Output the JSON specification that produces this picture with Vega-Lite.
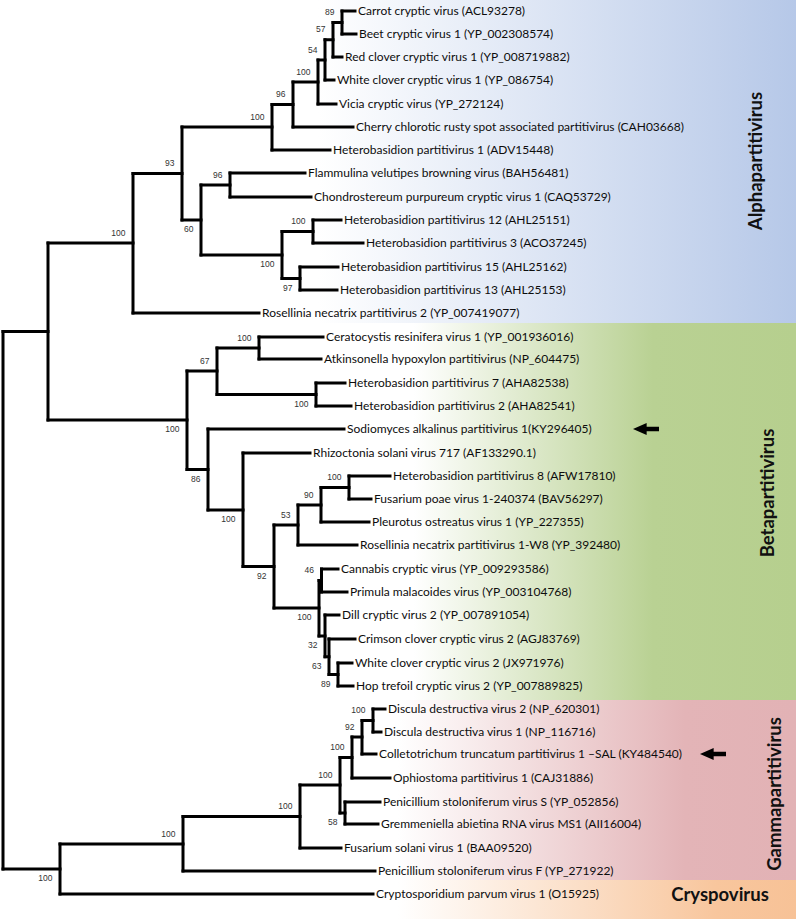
{
  "$schema": "https://vega.github.io/schema/vega-lite/v6.json",
  "width": 796,
  "height": 919,
  "autosize": {"type": "fit", "contains": "padding"},
  "padding": 0,
  "background": "white",
  "config": {"view": {"stroke": null}},
  "datasets": {
    "bands": [
      {"clade": "Alphapartitivirus", "y1": 0, "y2": 323},
      {"clade": "Betapartitivirus", "y1": 323, "y2": 700},
      {"clade": "Gammapartitivirus", "y1": 700, "y2": 880},
      {"clade": "Cryspovirus", "y1": 880, "y2": 919}
    ],
    "tree": [
      {"kind": "leaf", "name": "Carrot cryptic virus (ACL93278)", "x": 355, "px": 342, "y": 11},
      {"kind": "leaf", "name": "Beet cryptic virus 1 (YP_002308574)", "x": 356, "px": 342, "y": 34},
      {"kind": "leaf", "name": "Red clover cryptic virus 1 (YP_008719882)", "x": 342, "px": 333, "y": 57},
      {"kind": "leaf", "name": "White clover cryptic virus 1 (YP_086754)", "x": 334, "px": 325, "y": 80},
      {"kind": "leaf", "name": "Vicia cryptic virus (YP_272124)", "x": 336, "px": 318, "y": 104},
      {"kind": "leaf", "name": "Cherry chlorotic rusty spot associated partitivirus (CAH03668)", "x": 353, "px": 293, "y": 127},
      {"kind": "leaf", "name": "Heterobasidion partitivirus 1 (ADV15448)", "x": 330, "px": 272, "y": 150},
      {"kind": "leaf", "name": "Flammulina velutipes browning virus (BAH56481)", "x": 305, "px": 230, "y": 173},
      {"kind": "leaf", "name": "Chondrostereum purpureum cryptic virus 1 (CAQ53729)", "x": 311, "px": 230, "y": 197},
      {"kind": "leaf", "name": "Heterobasidion partitivirus 12 (AHL25151)", "x": 341, "px": 313, "y": 220},
      {"kind": "leaf", "name": "Heterobasidion partitivirus 3 (ACO37245)", "x": 363, "px": 313, "y": 243},
      {"kind": "leaf", "name": "Heterobasidion partitivirus 15 (AHL25162)", "x": 338, "px": 300, "y": 267},
      {"kind": "leaf", "name": "Heterobasidion partitivirus 13 (AHL25153)", "x": 337, "px": 300, "y": 290},
      {"kind": "leaf", "name": "Rosellinia necatrix partitivirus 2 (YP_007419077)", "x": 259, "px": 133, "y": 313},
      {"kind": "leaf", "name": "Ceratocystis resinifera virus 1 (YP_001936016)", "x": 323, "px": 259, "y": 337},
      {"kind": "leaf", "name": "Atkinsonella hypoxylon partitivirus (NP_604475)", "x": 321, "px": 259, "y": 359},
      {"kind": "leaf", "name": "Heterobasidion partitivirus 7 (AHA82538)", "x": 345, "px": 316, "y": 383},
      {"kind": "leaf", "name": "Heterobasidion partitivirus 2 (AHA82541)", "x": 351, "px": 316, "y": 406},
      {"kind": "leaf", "name": "Sodiomyces alkalinus partitivirus 1(KY296405)", "x": 344, "px": 208, "y": 429},
      {"kind": "leaf", "name": "Rhizoctonia solani virus 717 (AF133290.1)", "x": 310, "px": 243, "y": 453},
      {"kind": "leaf", "name": "Heterobasidion partitivirus 8 (AFW17810)", "x": 390, "px": 349, "y": 476},
      {"kind": "leaf", "name": "Fusarium poae virus 1-240374 (BAV56297)", "x": 371, "px": 349, "y": 499},
      {"kind": "leaf", "name": "Pleurotus ostreatus virus 1 (YP_227355)", "x": 369, "px": 321, "y": 522},
      {"kind": "leaf", "name": "Rosellinia necatrix partitivirus 1-W8 (YP_392480)", "x": 357, "px": 298, "y": 545},
      {"kind": "leaf", "name": "Cannabis cryptic virus (YP_009293586)", "x": 338, "px": 321.5, "y": 569},
      {"kind": "leaf", "name": "Primula malacoides virus (YP_003104768)", "x": 347, "px": 321.5, "y": 592},
      {"kind": "leaf", "name": "Dill cryptic virus 2 (YP_007891054)", "x": 339, "px": 325, "y": 615},
      {"kind": "leaf", "name": "Crimson clover cryptic virus 2 (AGJ83769)", "x": 355, "px": 329, "y": 639},
      {"kind": "leaf", "name": "White clover cryptic virus 2 (JX971976)", "x": 352, "px": 338, "y": 663},
      {"kind": "leaf", "name": "Hop trefoil cryptic virus 2 (YP_007889825)", "x": 353, "px": 338, "y": 686},
      {"kind": "leaf", "name": "Discula destructiva virus 2 (NP_620301)", "x": 385, "px": 373, "y": 709},
      {"kind": "leaf", "name": "Discula destructiva virus  1 (NP_116716)", "x": 381, "px": 373, "y": 732},
      {"kind": "leaf", "name": "Colletotrichum truncatum partitivirus 1 –SAL (KY484540)", "x": 376, "px": 362, "y": 754},
      {"kind": "leaf", "name": "Ophiostoma partitivirus 1 (CAJ31886)", "x": 390, "px": 352, "y": 778},
      {"kind": "leaf", "name": "Penicillium stoloniferum virus S (YP_052856)", "x": 380, "px": 345, "y": 802},
      {"kind": "leaf", "name": "Gremmeniella abietina RNA virus MS1 (AII16004)", "x": 378, "px": 345, "y": 824},
      {"kind": "leaf", "name": "Fusarium solani virus 1 (BAA09520)", "x": 341, "px": 300, "y": 848},
      {"kind": "leaf", "name": "Penicillium stoloniferum virus F (YP_271922)", "x": 375, "px": 183, "y": 871},
      {"kind": "leaf", "name": "Cryptosporidium parvum virus 1 (O15925)", "x": 373, "px": 60, "y": 894},

      {"kind": "node", "x": 342, "px": 333, "y": 22.5, "y1": 11, "y2": 34, "boot": "89", "pos": "above"},
      {"kind": "node", "x": 333, "px": 325, "y": 39.75, "y1": 22.5, "y2": 57, "boot": "57", "pos": "above"},
      {"kind": "node", "x": 325, "px": 318, "y": 60, "y1": 39.75, "y2": 80, "boot": "54", "pos": "above"},
      {"kind": "node", "x": 318, "px": 293, "y": 82, "y1": 60, "y2": 104, "boot": "100", "pos": "above"},
      {"kind": "node", "x": 293, "px": 272, "y": 104.5, "y1": 82, "y2": 127, "boot": "96", "pos": "above"},
      {"kind": "node", "x": 272, "px": 182, "y": 127, "y1": 104.5, "y2": 150, "boot": "100", "pos": "above"},
      {"kind": "node", "x": 230, "px": 201, "y": 185, "y1": 173, "y2": 197, "boot": "96", "pos": "above"},
      {"kind": "node", "x": 313, "px": 282, "y": 231.5, "y1": 220, "y2": 243, "boot": "100", "pos": "above"},
      {"kind": "node", "x": 300, "px": 282, "y": 278.5, "y1": 267, "y2": 290, "boot": "97", "pos": "below"},
      {"kind": "node", "x": 282, "px": 201, "y": 255, "y1": 231.5, "y2": 278.5, "boot": "100", "pos": "below"},
      {"kind": "node", "x": 201, "px": 182, "y": 220, "y1": 185, "y2": 255, "boot": "60", "pos": "below"},
      {"kind": "node", "x": 182, "px": 133, "y": 173.5, "y1": 127, "y2": 220, "boot": "93", "pos": "above"},
      {"kind": "node", "x": 133, "px": 48, "y": 243, "y1": 173.5, "y2": 313, "boot": "100", "pos": "above"},

      {"kind": "node", "x": 259, "px": 217, "y": 348, "y1": 337, "y2": 359, "boot": "100", "pos": "above"},
      {"kind": "node", "x": 316, "px": 217, "y": 394.5, "y1": 383, "y2": 406, "boot": "100", "pos": "below"},
      {"kind": "node", "x": 217, "px": 187, "y": 371, "y1": 348, "y2": 394.5, "boot": "67", "pos": "above"},
      {"kind": "node", "x": 349, "px": 321, "y": 487.5, "y1": 476, "y2": 499, "boot": "100", "pos": "above"},
      {"kind": "node", "x": 321, "px": 298, "y": 505, "y1": 487.5, "y2": 522, "boot": "90", "pos": "above"},
      {"kind": "node", "x": 298, "px": 274, "y": 525, "y1": 505, "y2": 545, "boot": "53", "pos": "above"},
      {"kind": "node", "x": 321.5, "px": 319, "y": 580.5, "y1": 569, "y2": 592, "boot": "46", "pos": "above"},
      {"kind": "node", "x": 338, "px": 329, "y": 674.5, "y1": 663, "y2": 686, "boot": "89", "pos": "below"},
      {"kind": "node", "x": 329, "px": 325, "y": 656.75, "y1": 639, "y2": 674.5, "boot": "63", "pos": "below"},
      {"kind": "node", "x": 325, "px": 319, "y": 636, "y1": 615, "y2": 656.75, "boot": "32", "pos": "below"},
      {"kind": "node", "x": 319, "px": 274, "y": 608, "y1": 580.5, "y2": 636, "boot": "100", "pos": "below"},
      {"kind": "node", "x": 274, "px": 243, "y": 566.5, "y1": 525, "y2": 608, "boot": "92", "pos": "below"},
      {"kind": "node", "x": 243, "px": 208, "y": 510, "y1": 453, "y2": 566.5, "boot": "100", "pos": "below"},
      {"kind": "node", "x": 208, "px": 187, "y": 469.5, "y1": 429, "y2": 510, "boot": "86", "pos": "below"},
      {"kind": "node", "x": 187, "px": 48, "y": 420, "y1": 371, "y2": 469.5, "boot": "100", "pos": "below"},

      {"kind": "node", "x": 373, "px": 362, "y": 720.5, "y1": 709, "y2": 732, "boot": "100", "pos": "above"},
      {"kind": "node", "x": 362, "px": 352, "y": 737, "y1": 720.5, "y2": 754, "boot": "92", "pos": "above"},
      {"kind": "node", "x": 352, "px": 340, "y": 757.5, "y1": 737, "y2": 778, "boot": "100", "pos": "above"},
      {"kind": "node", "x": 345, "px": 340, "y": 813, "y1": 802, "y2": 824, "boot": "58", "pos": "below"},
      {"kind": "node", "x": 340, "px": 300, "y": 785, "y1": 757.5, "y2": 813, "boot": "100", "pos": "above"},
      {"kind": "node", "x": 300, "px": 183, "y": 816.5, "y1": 785, "y2": 848, "boot": "100", "pos": "above"},
      {"kind": "node", "x": 183, "px": 60, "y": 844, "y1": 816.5, "y2": 871, "boot": "100", "pos": "above"},
      {"kind": "node", "x": 60, "px": 3, "y": 869, "y1": 844, "y2": 894, "boot": "100", "pos": "below"},
      {"kind": "node", "x": 48, "px": 3, "y": 331.5, "y1": 243, "y2": 420},
      {"kind": "node", "x": 3, "y": 600, "y1": 331.5, "y2": 869}
    ],
    "arrows": [
      {"target": "Sodiomyces alkalinus partitivirus 1(KY296405)", "x": 646, "y": 429},
      {"target": "Colletotrichum truncatum partitivirus 1 –SAL (KY484540)", "x": 713, "y": 754}
    ],
    "clades": [
      {"clade": "Alphapartitivirus", "x": 756, "y": 161, "dir": "vertical"},
      {"clade": "Betapartitivirus", "x": 768, "y": 493, "dir": "vertical"},
      {"clade": "Gammapartitivirus", "x": 775, "y": 794, "dir": "vertical"},
      {"clade": "Cryspovirus", "x": 720, "y": 895, "dir": "horizontal"}
    ]
  },
  "layer": [
    {
      "data": {"name": "bands"},
      "transform": [{"filter": "datum.clade === 'Alphapartitivirus'"}],
      "mark": {"type": "rect", "fill": {"gradient": "linear", "x1": 0, "x2": 1, "y1": 0, "y2": 0, "stops": [{"offset": 0, "color": "#ffffff"}, {"offset": 0.4, "color": "#ffffff"}, {"offset": 1, "color": "#b6c8e8"}]}},
      "encoding": {
        "x": {"datum": 0, "type": "quantitative", "scale": {"domain": [0, 796], "nice": false, "zero": false}, "axis": null},
        "x2": {"datum": 796},
        "y": {"field": "y1", "type": "quantitative", "scale": {"domain": [0, 919], "nice": false, "zero": false, "reverse": true}, "axis": null},
        "y2": {"field": "y2"}
      }
    },
    {
      "data": {"name": "bands"},
      "transform": [{"filter": "datum.clade === 'Betapartitivirus'"}],
      "mark": {"type": "rect", "fill": {"gradient": "linear", "x1": 0, "x2": 1, "y1": 0, "y2": 0, "stops": [{"offset": 0, "color": "#ffffff"}, {"offset": 0.52, "color": "#ffffff"}, {"offset": 0.82, "color": "#b9d193"}, {"offset": 1, "color": "#b6cf8e"}]}},
      "encoding": {
        "x": {"datum": 0, "type": "quantitative", "scale": {"domain": [0, 796], "nice": false, "zero": false}, "axis": null},
        "x2": {"datum": 796},
        "y": {"field": "y1", "type": "quantitative", "scale": {"domain": [0, 919], "nice": false, "zero": false, "reverse": true}, "axis": null},
        "y2": {"field": "y2"}
      }
    },
    {
      "data": {"name": "bands"},
      "transform": [{"filter": "datum.clade === 'Gammapartitivirus'"}],
      "mark": {"type": "rect", "fill": {"gradient": "linear", "x1": 0, "x2": 1, "y1": 0, "y2": 0, "stops": [{"offset": 0, "color": "#ffffff"}, {"offset": 0.5, "color": "#ffffff"}, {"offset": 0.86, "color": "#e3b4b7"}, {"offset": 1, "color": "#e2b2b5"}]}},
      "encoding": {
        "x": {"datum": 0, "type": "quantitative", "scale": {"domain": [0, 796], "nice": false, "zero": false}, "axis": null},
        "x2": {"datum": 796},
        "y": {"field": "y1", "type": "quantitative", "scale": {"domain": [0, 919], "nice": false, "zero": false, "reverse": true}, "axis": null},
        "y2": {"field": "y2"}
      }
    },
    {
      "data": {"name": "bands"},
      "transform": [{"filter": "datum.clade === 'Cryspovirus'"}],
      "mark": {"type": "rect", "fill": {"gradient": "linear", "x1": 0, "x2": 1, "y1": 0, "y2": 0, "stops": [{"offset": 0, "color": "#ffffff"}, {"offset": 0.5, "color": "#ffffff"}, {"offset": 0.9, "color": "#f8c69d"}, {"offset": 1, "color": "#f7c297"}]}},
      "encoding": {
        "x": {"datum": 0, "type": "quantitative", "scale": {"domain": [0, 796], "nice": false, "zero": false}, "axis": null},
        "x2": {"datum": 796},
        "y": {"field": "y1", "type": "quantitative", "scale": {"domain": [0, 919], "nice": false, "zero": false, "reverse": true}, "axis": null},
        "y2": {"field": "y2"}
      }
    },
    {
      "data": {"name": "tree"},
      "transform": [{"filter": "isValid(datum.px)"}],
      "mark": {"type": "rule", "color": "#000000", "strokeWidth": 3, "strokeCap": "square"},
      "encoding": {
        "x": {"field": "px", "type": "quantitative", "scale": {"domain": [0, 796], "nice": false, "zero": false}, "axis": null},
        "x2": {"field": "x"},
        "y": {"field": "y", "type": "quantitative", "scale": {"domain": [0, 919], "nice": false, "zero": false, "reverse": true}, "axis": null}
      }
    },
    {
      "data": {"name": "tree"},
      "transform": [{"filter": "isValid(datum.y1)"}],
      "mark": {"type": "rule", "color": "#000000", "strokeWidth": 3, "strokeCap": "square"},
      "encoding": {
        "x": {"field": "x", "type": "quantitative", "scale": {"domain": [0, 796], "nice": false, "zero": false}, "axis": null},
        "y": {"field": "y1", "type": "quantitative", "scale": {"domain": [0, 919], "nice": false, "zero": false, "reverse": true}, "axis": null},
        "y2": {"field": "y2"}
      }
    },
    {
      "data": {"name": "tree"},
      "transform": [{"filter": "datum.kind === 'leaf'"}],
      "mark": {"type": "text", "align": "left", "baseline": "middle", "dx": 3, "font": "Lato", "fontSize": 12, "color": "#0d0d0d"},
      "encoding": {
        "x": {"field": "x", "type": "quantitative", "scale": {"domain": [0, 796], "nice": false, "zero": false}, "axis": null},
        "y": {"field": "y", "type": "quantitative", "scale": {"domain": [0, 919], "nice": false, "zero": false, "reverse": true}, "axis": null},
        "text": {"field": "name"}
      }
    },
    {
      "data": {"name": "tree"},
      "transform": [{"filter": "datum.pos === 'above'"}],
      "mark": {"type": "text", "align": "right", "baseline": "middle", "dx": -7.5, "dy": -10.5, "font": "Liberation Sans", "fontSize": 8.5, "color": "#333333"},
      "encoding": {
        "x": {"field": "x", "type": "quantitative", "scale": {"domain": [0, 796], "nice": false, "zero": false}, "axis": null},
        "y": {"field": "y", "type": "quantitative", "scale": {"domain": [0, 919], "nice": false, "zero": false, "reverse": true}, "axis": null},
        "text": {"field": "boot"}
      }
    },
    {
      "data": {"name": "tree"},
      "transform": [{"filter": "datum.pos === 'below'"}],
      "mark": {"type": "text", "align": "right", "baseline": "middle", "dx": -7.5, "dy": 9, "font": "Liberation Sans", "fontSize": 8.5, "color": "#333333"},
      "encoding": {
        "x": {"field": "x", "type": "quantitative", "scale": {"domain": [0, 796], "nice": false, "zero": false}, "axis": null},
        "y": {"field": "y", "type": "quantitative", "scale": {"domain": [0, 919], "nice": false, "zero": false, "reverse": true}, "axis": null},
        "text": {"field": "boot"}
      }
    },
    {
      "data": {"name": "arrows"},
      "mark": {"type": "point", "shape": "M-1,0L0.05,-0.46L0.05,-0.18L1,-0.18L1,0.18L0.05,0.18L0.05,0.46Z", "filled": true, "color": "#000000", "size": 676, "opacity": 1, "strokeWidth": 0},
      "encoding": {
        "x": {"field": "x", "type": "quantitative", "scale": {"domain": [0, 796], "nice": false, "zero": false}, "axis": null},
        "y": {"field": "y", "type": "quantitative", "scale": {"domain": [0, 919], "nice": false, "zero": false, "reverse": true}, "axis": null}
      }
    },
    {
      "data": {"name": "clades"},
      "transform": [{"filter": "datum.dir === 'vertical'"}],
      "mark": {"type": "text", "angle": 270, "align": "center", "baseline": "middle", "font": "Lato", "fontWeight": "bold", "fontSize": 18.5, "color": "#111111"},
      "encoding": {
        "x": {"field": "x", "type": "quantitative", "scale": {"domain": [0, 796], "nice": false, "zero": false}, "axis": null},
        "y": {"field": "y", "type": "quantitative", "scale": {"domain": [0, 919], "nice": false, "zero": false, "reverse": true}, "axis": null},
        "text": {"field": "clade"}
      }
    },
    {
      "data": {"name": "clades"},
      "transform": [{"filter": "datum.dir === 'horizontal'"}],
      "mark": {"type": "text", "align": "center", "baseline": "middle", "font": "Lato", "fontWeight": "bold", "fontSize": 18.5, "color": "#111111"},
      "encoding": {
        "x": {"field": "x", "type": "quantitative", "scale": {"domain": [0, 796], "nice": false, "zero": false}, "axis": null},
        "y": {"field": "y", "type": "quantitative", "scale": {"domain": [0, 919], "nice": false, "zero": false, "reverse": true}, "axis": null},
        "text": {"field": "clade"}
      }
    }
  ]
}
